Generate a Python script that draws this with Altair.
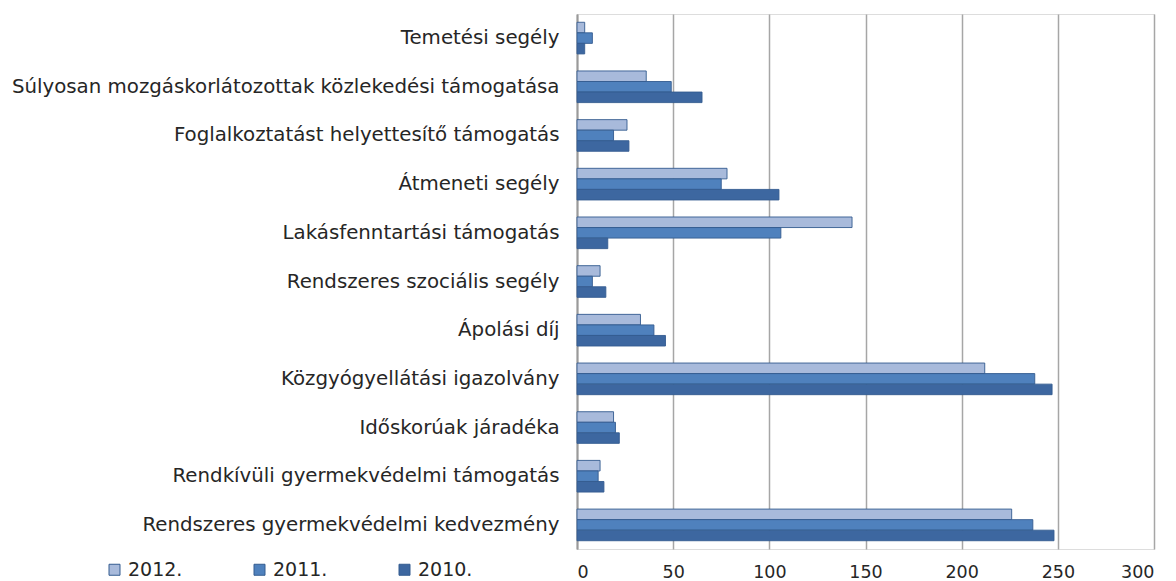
import altair as alt
import pandas as pd

categories = [
    "Temetési segély",
    "Súlyosan mozgáskorlátozottak közlekedési támogatása",
    "Foglalkoztatást helyettesítő támogatás",
    "Átmeneti segély",
    "Lakásfenntartási támogatás",
    "Rendszeres szociális segély",
    "Ápolási díj",
    "Közgyógyellátási igazolvány",
    "Időskorúak járadéka",
    "Rendkívüli gyermekvédelmi támogatás",
    "Rendszeres gyermekvédelmi kedvezmény",
]
years = ["2012.", "2011.", "2010."]
v2012 = [4, 36, 26, 78, 143, 12, 33, 212, 19, 12, 226]
v2011 = [8, 49, 19, 75, 106, 8, 40, 238, 20, 11, 237]
v2010 = [4, 65, 27, 105, 16, 15, 46, 247, 22, 14, 248]
colors = ["#A8BADB", "#4F81BD", "#3D67A0"]

rows = []
for i, c in enumerate(categories):
    for y, vals in zip(years, [v2012, v2011, v2010]):
        rows.append({"cat": c, "year": y, "value": vals[i]})
df = pd.DataFrame(rows)

FONT = "DejaVu Sans"

chart = (
    alt.Chart(df)
    .mark_bar(stroke="#345C90", strokeWidth=1, strokeOpacity=0.9)
    .encode(
        y=alt.Y(
            "cat:N",
            sort=categories,
            scale=alt.Scale(paddingInner=0.35, paddingOuter=0.17),
            axis=alt.Axis(
                title=None,
                labelFontSize=19.8,
                labelFont=FONT,
                labelColor="#262626",
                labelPadding=18,
                ticks=False,
                domain=True,
                domainColor="#9A9A9A",
                domainWidth=2,
                labelLimit=600,
            ),
        ),
        yOffset=alt.YOffset("year:N", sort=years),
        x=alt.X(
            "value:Q",
            scale=alt.Scale(domain=[0, 300], nice=False),
            axis=alt.Axis(
                title=None,
                values=[0, 50, 100, 150, 200, 250, 300],
                labelFontSize=17.5,
                labelFont=FONT,
                labelColor="#262626",
                labelPadding=14,
                labelBaseline="top",
                ticks=False,
                domain=False,
                grid=True,
                gridColor="#A6A6A6",
                gridWidth=1.5,
            ),
        ),
        color=alt.Color(
            "year:N",
            sort=years,
            scale=alt.Scale(domain=years, range=colors),
            legend=alt.Legend(
                title=None,
                orient="none",
                legendX=-472,
                legendY=546,
                direction="horizontal",
                columns=3,
                columnPadding=67,
                symbolType="square",
                symbolSize=121,
                symbolStrokeColor="#345C90",
                symbolStrokeWidth=1,
                labelFontSize=19,
                labelFont=FONT,
                labelColor="#262626",
                labelOffset=4,
            ),
        ),
    )
    .properties(
        width=577,
        height=535,
        autosize=alt.AutoSizeParams(type="none"),
        padding={"left": 569, "top": 6, "right": 14, "bottom": 32},
    )
    .configure_view(fill="#FAFAFA", stroke="#C8C8C8", strokeWidth=1)
    .configure(background="white")
)

chart.save("out.html", embed_options={"renderer": "svg", "actions": False})
